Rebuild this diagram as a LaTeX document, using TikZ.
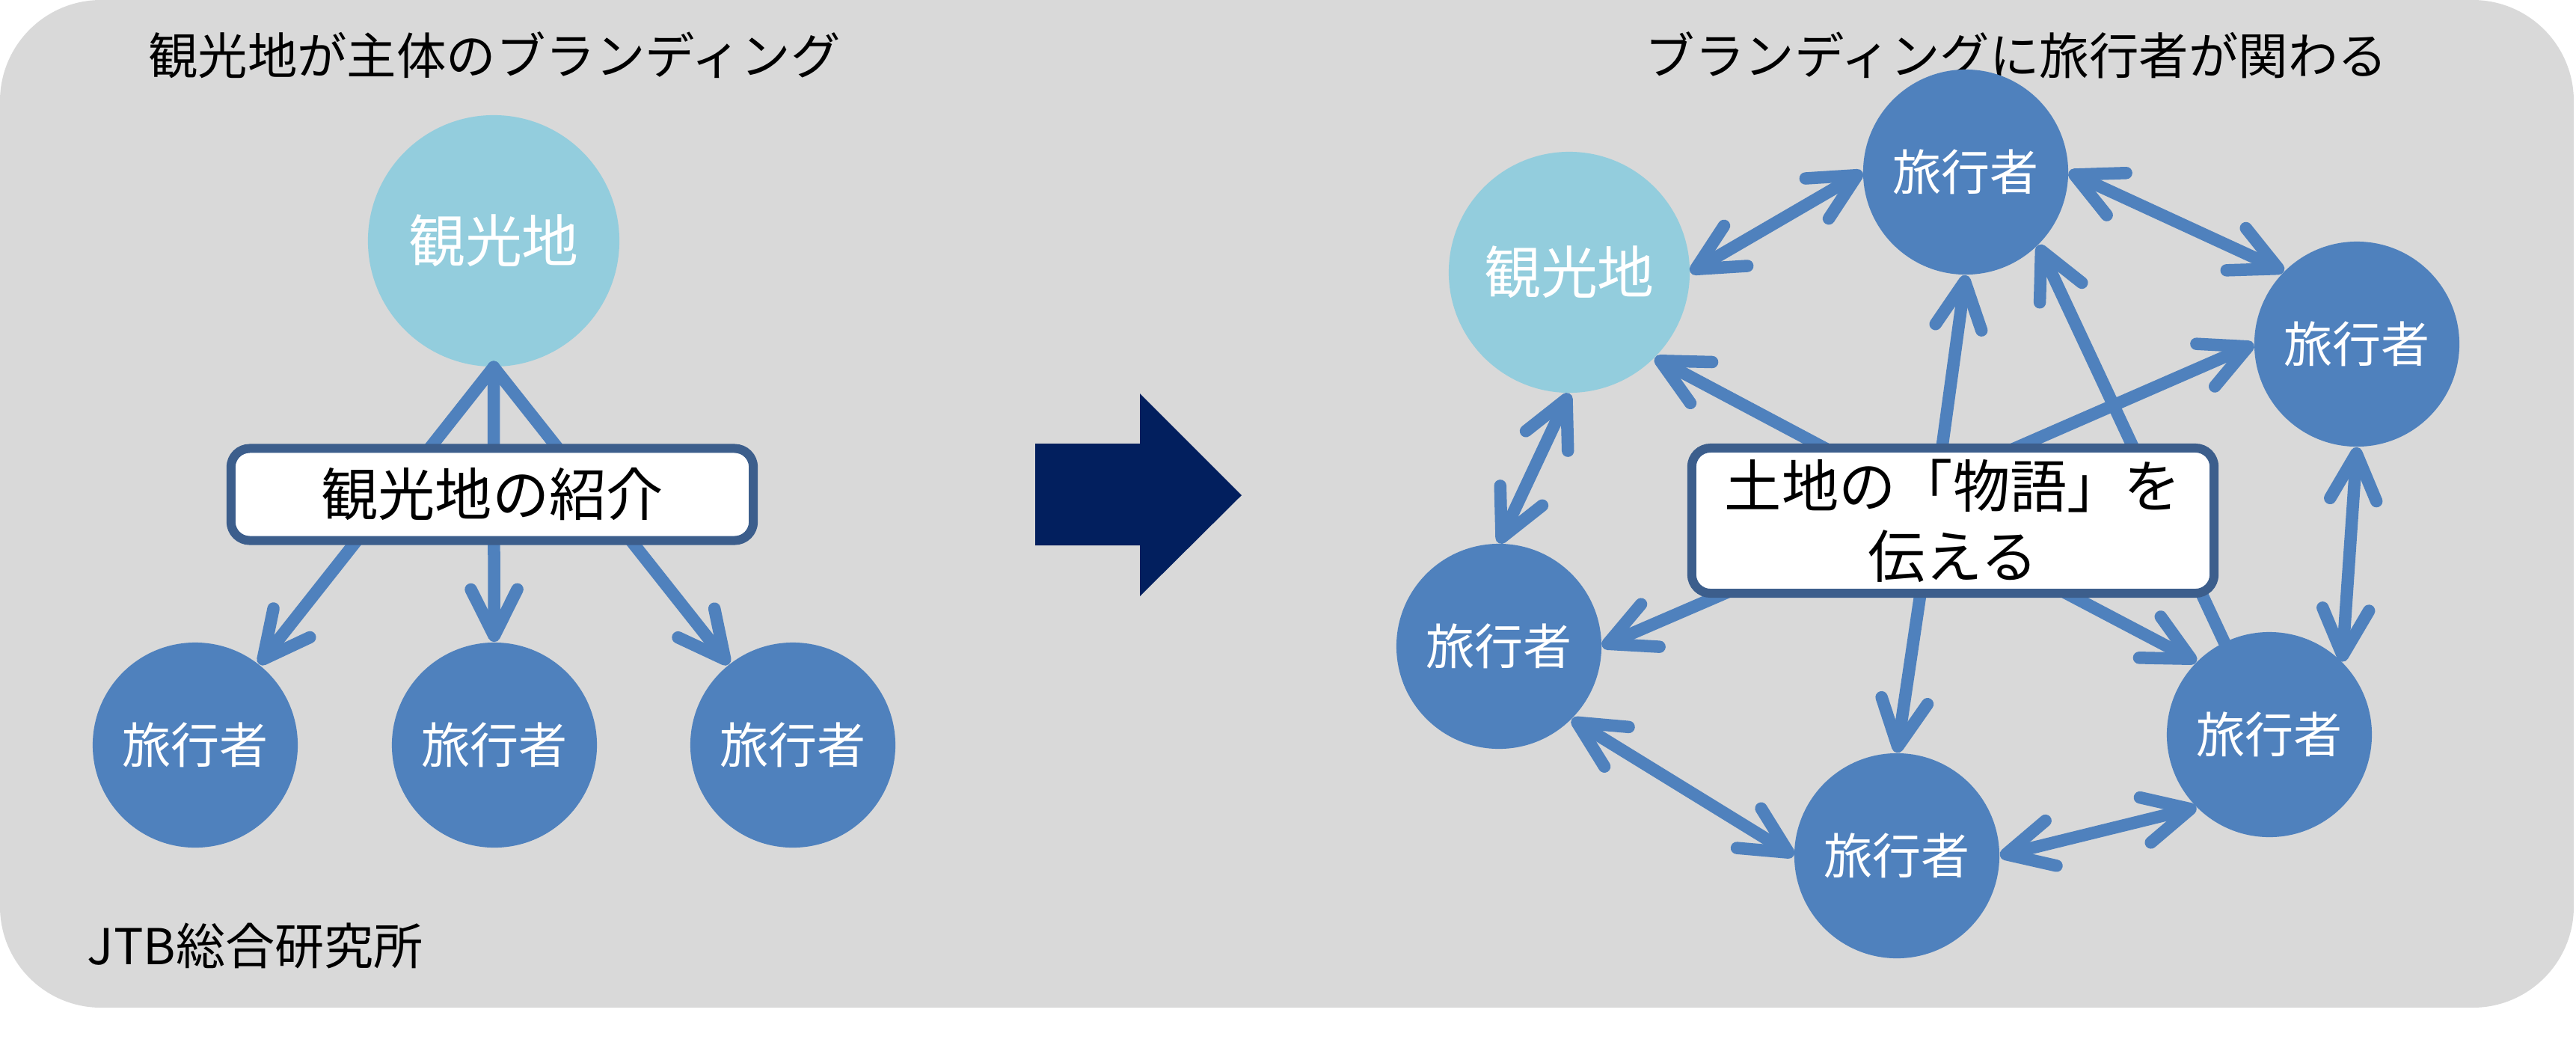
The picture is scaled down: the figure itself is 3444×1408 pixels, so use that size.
\documentclass[tikz,border=0pt]{standalone}
\usepackage{fontspec}
\setmainfont{Noto Sans CJK JP}
\usetikzlibrary{arrows.meta}
\definecolor{bg}{HTML}{D9D9D9}
\definecolor{lblue}{HTML}{93CDDD}
\definecolor{mblue}{HTML}{4F81BD}
\definecolor{boxb}{HTML}{3C5E8C}
\definecolor{navy}{HTML}{021F5E}
\tikzset{
  ttl/.style={inner sep=0pt, text=black, font=\fontsize{18.9pt}{22pt}\selectfont},
  spot/.style={circle, fill=lblue, text=white, inner sep=0pt, font=\fontsize{21.6pt}{24pt}\selectfont},
  trav/.style={circle, fill=mblue, text=white, inner sep=0pt, minimum size=2.74cm, font=\fontsize{18.5pt}{22pt}\selectfont},
  msgbox/.style={draw=boxb, line width=0.12cm, fill=white, rounded corners=0.25cm, inner sep=0pt, align=center, font=\fontsize{21.7pt}{26.7pt}\selectfont},
  barb/.tip={Straight Barb[length=0.62cm, width=0.62cm, round]},
  conn/.style={draw=mblue, line width=0.165cm, line cap=round, -barb},
  dbl/.style={draw=mblue, line width=0.165cm, line cap=round, barb-barb},
}
\begin{document}
\begin{tikzpicture}[x=0.01cm, y=-0.01cm]
\useasboundingbox (0,0) rectangle (3444,1408);
\fill[bg, rounded corners=1.35cm] (0,0) rectangle (3441,1347);

% titles
\node[ttl] (t1) at (661,74) {観光地が主体のブランディング};
\node[ttl] (t2) at (2696,74) {ブランディングに旅行者が関わる};
\node[ttl, anchor=west, font=\fontsize{18.8pt}{22pt}\selectfont] (jtb) at (116,1264) {JTB総合研究所};

% big arrow
\fill[navy] (1384,593) -- (1524,593) -- (1524,526) -- (1660,662) -- (1524,797) -- (1524,729) -- (1384,729) -- cycle;

% left panel
\node[spot, minimum size=3.36cm] (LS) at (660,322) {観光地};
\node[trav] (LA) at (261,996) {旅行者};
\node[trav] (LB) at (661,996) {旅行者};
\node[trav] (LC) at (1060,996) {旅行者};
\draw[conn] (LS.south) -- (LA);
\draw[conn] (LS.south) -- (LB);
\draw[conn] (LS.south) -- (LC);
\node[msgbox, minimum width=6.98cm, minimum height=1.23cm] (LM) at (658,661) {観光地の紹介};

% right panel
\node[spot, minimum size=3.22cm] (RS) at (2098,364) {観光地};
\node[trav] (T1) at (2628,230) {旅行者};
\node[trav] (T2) at (3151,460) {旅行者};
\node[trav] (T3) at (2004,864) {旅行者};
\node[trav] (T4) at (3034,982) {旅行者};
\node[trav] (T5) at (2536,1144) {旅行者};

\draw[dbl] (RS.east) -- (T1.west);
\draw[dbl] (T1.east) -- (T2.north west);
\draw[dbl] (RS.south) -- (T3.north);
\draw[dbl] (T2.south) -- (T4.north east);
\draw[dbl] (T3.south east) -- (T5.west);
\draw[dbl] (T5.east) -- (T4.south west);

\coordinate (s7) at (2622,696);
\coordinate (s8) at (2583,696);
\coordinate (s9) at (2472,696);
\coordinate (s10) at (2531,696);
\coordinate (s11) at (2582,696);
\coordinate (s12) at (2578,696);
\draw[conn] (s7) -- (RS.south east);
\draw[conn] (s8) -- (T1.south);
\draw[conn] (s9) -- (T2.west);
\draw[conn] (s10) -- (T3.east);
\draw[conn] (s11) -- (T5.north);
\draw[conn] (s12) -- (T4.north west);
\draw[conn] (T4.116) -- (T1.south east);

\node[msgbox, minimum width=6.98cm, minimum height=1.94cm] (RM) at (2611,696) {土地の「物語」を\\伝える};
\end{tikzpicture}
\end{document}
